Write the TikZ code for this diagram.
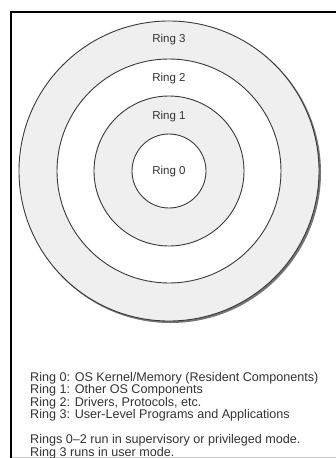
\documentclass[tikz,border=0pt]{standalone}
\usepackage{fontspec}
\setmainfont{Liberation Sans}
\usetikzlibrary{positioning}
\definecolor{ringgray}{HTML}{EFEFEF}
\definecolor{ringline}{HTML}{3A3A3A}
\definecolor{framegray}{HTML}{C8C8C8}
\definecolor{inktext}{HTML}{333333}
\tikzset{
  ringdisc/.style={circle, draw=ringline, line width=0.9pt, inner sep=0pt},
  graydisc/.style={ringdisc, fill=ringgray},
  whitedisc/.style={ringdisc, fill=white},
  ringlabel/.style={font=\fontsize{11.5}{12}\selectfont, text=inktext, inner sep=0pt},
  legendtext/.style={font=\fontsize{12.6}{12.5}\selectfont, text=inktext, align=left,
    anchor=north west, inner sep=0pt}
}
\begin{document}
\begin{tikzpicture}[x=1pt, y=-1pt]
    \useasboundingbox (0,0) rectangle (336,458);
    % frame
    \draw[line width=2pt] (336,12) -- (11,12) -- (11,458);
    \draw[framegray, line width=1pt] (12,457) -- (336,457);
    % rings, outside in
    \node[circle, fill=ringline!70, minimum size=301pt, inner sep=0pt] (shadow) at (170.5,172.5) {};
    \node[graydisc, minimum size=300pt] (ring3) at (169,171) {};
    \node[whitedisc, minimum size=224pt] (ring2) at (169,171) {};
    \node[graydisc, minimum size=150pt] (ring1) at (169,171) {};
    \node[whitedisc, minimum size=74pt] (ring0) at (169,171) {};
    \node[ringlabel] (lab3) at (169,40) {Ring 3};
    \node[ringlabel] (lab2) at (169,79) {Ring 2};
    \node[ringlabel] (lab1) at (169,117) {Ring 1};
    \node[ringlabel] (lab0) at (169,172) {Ring 0};
    % legend
    \node[legendtext] (legend) at (30,372) {Ring 0: OS Kernel/Memory (Resident Components)\\
      Ring 1: Other OS Components\\
      Ring 2: Drivers, Protocols, etc.\\
      Ring 3: User-Level Programs and Applications};
    \node[legendtext, below=13pt of legend.south west, anchor=north west] (modes) {Rings 0--2 run in supervisory or privileged mode.\\
      Ring 3 runs in user mode.};
\end{tikzpicture}
\end{document}
